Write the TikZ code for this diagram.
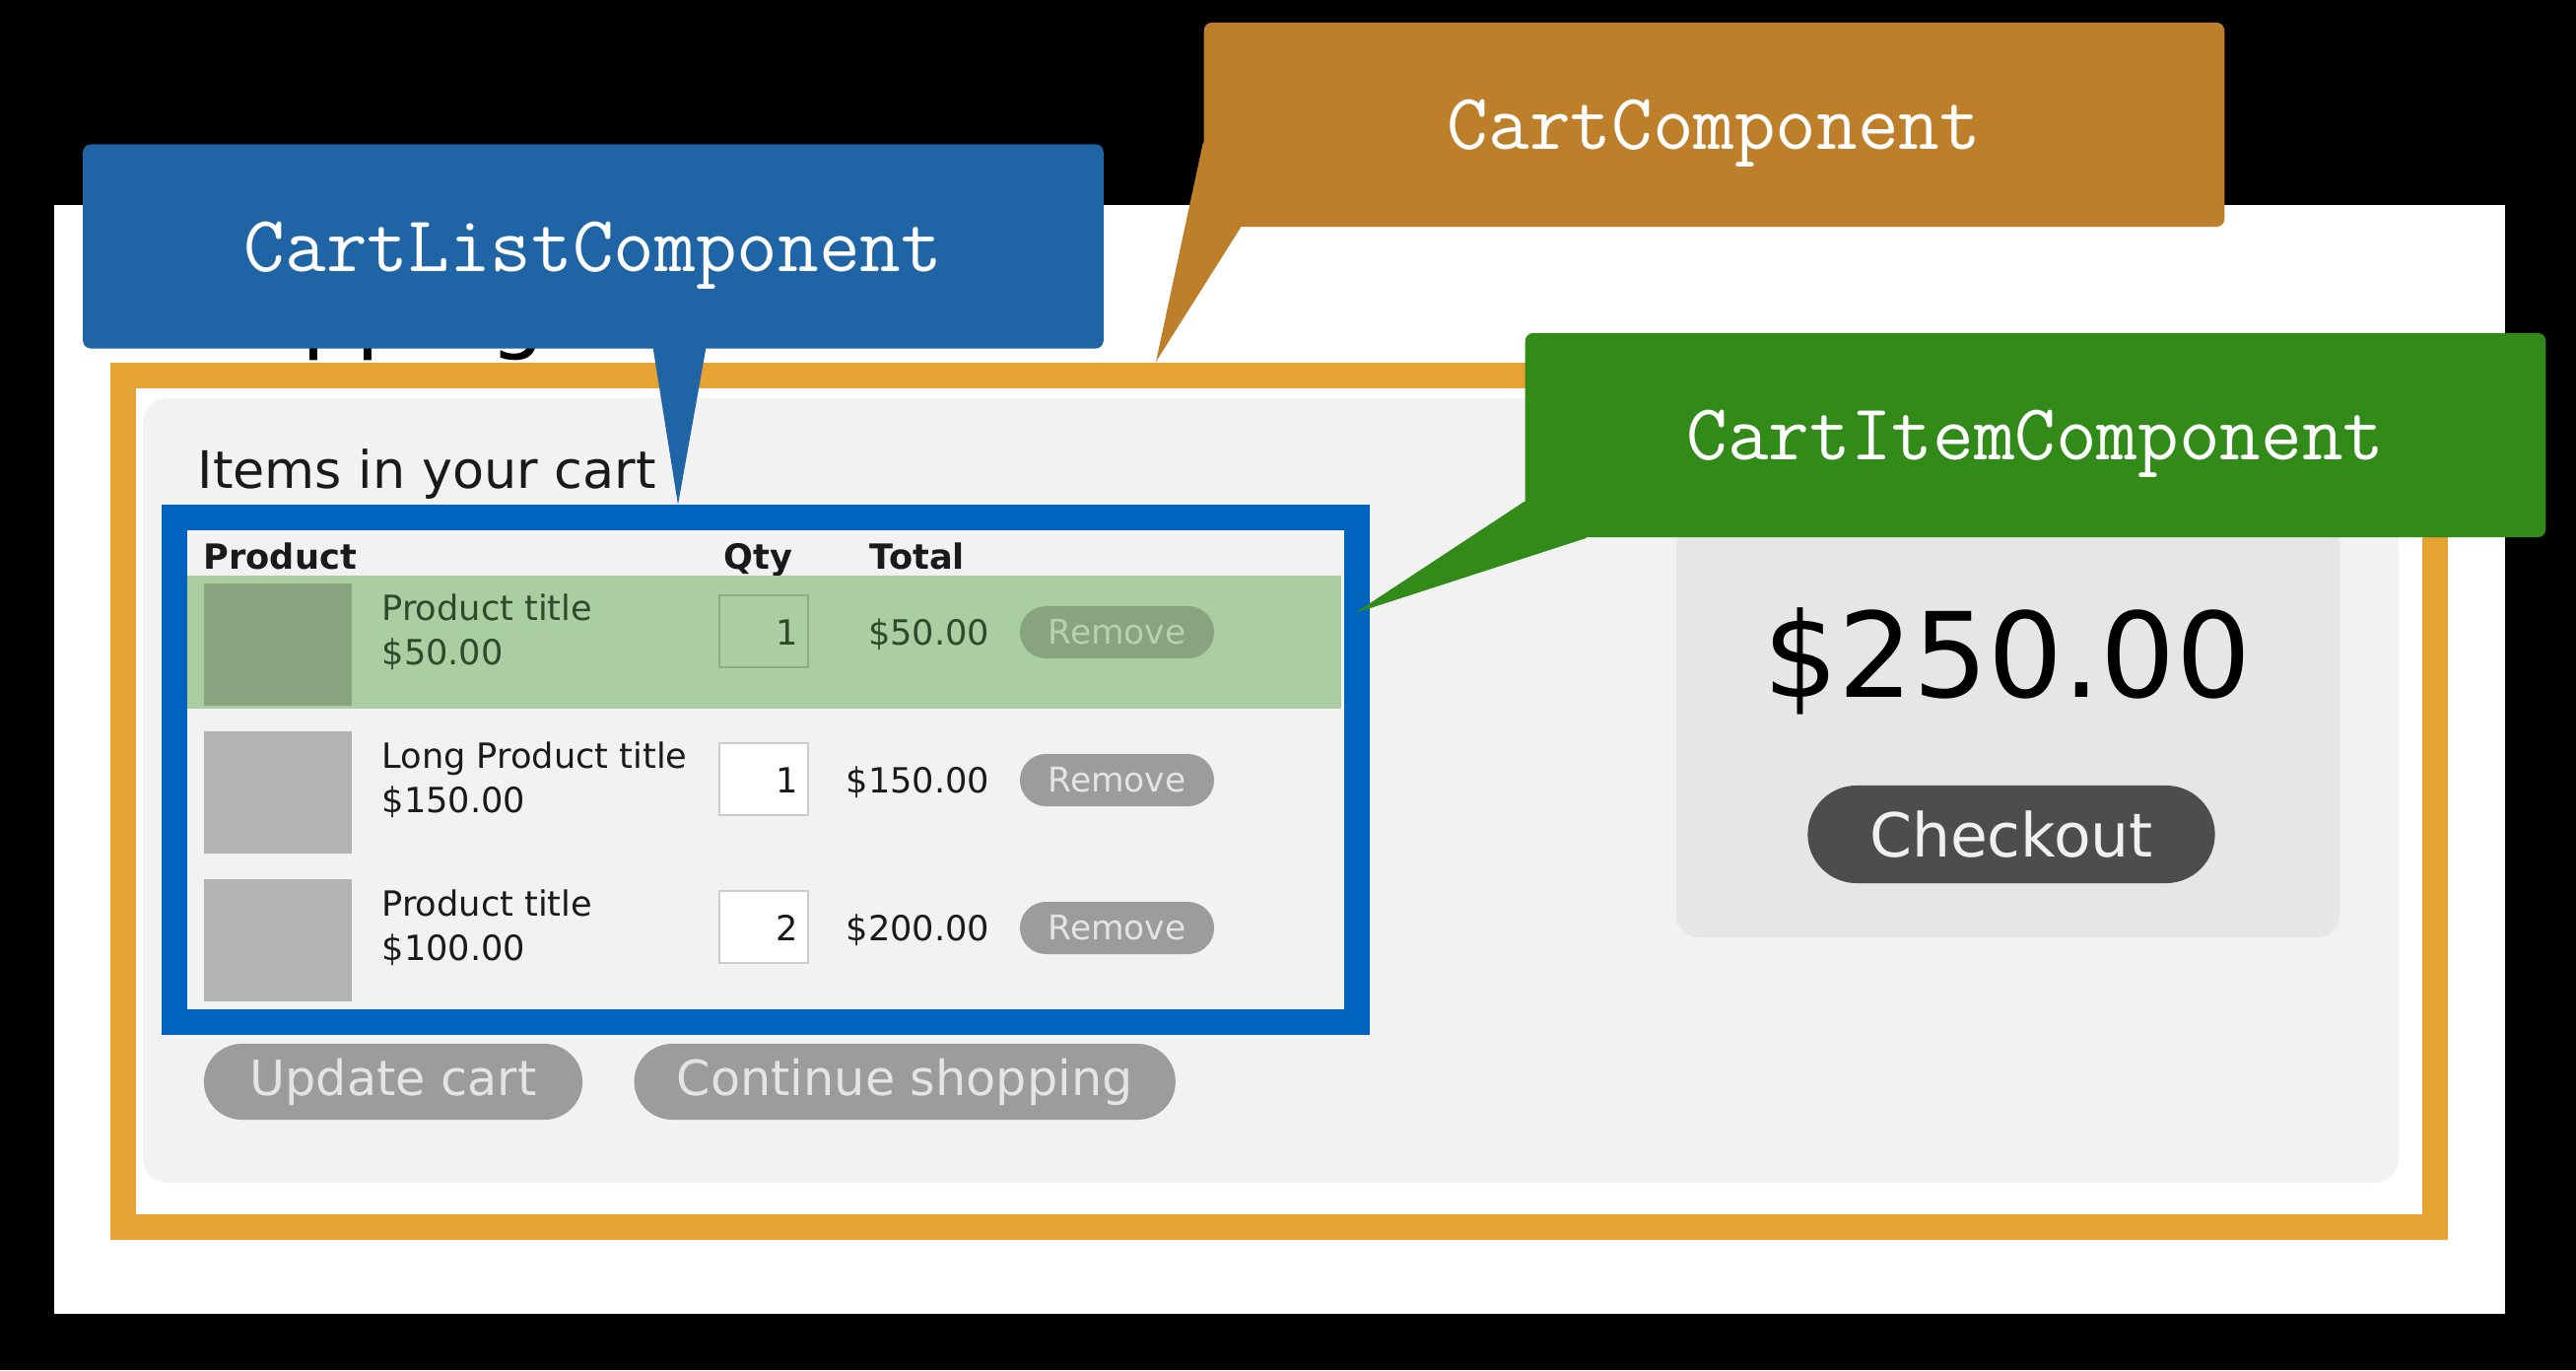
\documentclass[tikz,border=0pt]{standalone}
\usepackage{fontspec}
\newfontfamily\uifont{DejaVu Sans}
\usetikzlibrary{positioning}

\definecolor{pagebg}{HTML}{F2F2F2}
\definecolor{sumbg}{HTML}{E6E6E6}
\definecolor{cartorange}{HTML}{E6A233}
\definecolor{listblue}{HTML}{0064BF}
\definecolor{callorange}{HTML}{BE7F2A}
\definecolor{callblue}{HTML}{1F65A5}
\definecolor{callgreen}{HTML}{328A19}
\definecolor{rowgreen}{HTML}{ABCDA2}
\definecolor{thumbhl}{HTML}{87A47F}
\definecolor{thumbpl}{HTML}{B3B3B3}
\definecolor{inkhl}{HTML}{2F4A2A}
\definecolor{inkpl}{HTML}{1A1A1A}
\definecolor{qtyfillhl}{HTML}{ABCDA2}
\definecolor{qtyfillpl}{HTML}{FFFFFF}
\definecolor{qtylinehl}{HTML}{8CAD84}
\definecolor{qtylinepl}{HTML}{CCCCCC}
\definecolor{btnhl}{HTML}{87A47F}
\definecolor{btnpl}{HTML}{9C9C9C}
\definecolor{btntexthl}{HTML}{B5D2AC}
\definecolor{btntextpl}{HTML}{E4E4E4}
\definecolor{checkoutgray}{HTML}{4D4D4D}

\begin{document}
\begin{tikzpicture}[
  x=0.01cm, y=-0.01cm,
  callout/.style={rectangle, rounded corners=0.08cm, minimum width=10.35cm, minimum height=2.07cm, inner sep=0pt, text depth=0pt, text=white, font=\ttfamily\fontsize{23}{23}\selectfont},
  cell/.style={inner sep=0pt, font=\uifont\fontsize{10}{12}\selectfont},
  cellhead/.style={cell, font=\uifont\bfseries\fontsize{10}{12}\selectfont, text=inkpl},
  qtybox/.style={rectangle, line width=0.6pt, minimum width=0.9cm, minimum height=0.73cm, inner sep=0pt},
  rmbtn/.style={rectangle, rounded corners=0.265cm, minimum width=1.97cm, minimum height=0.53cm, inner sep=0pt, font=\uifont\fontsize{9.8}{10}\selectfont},
  bigbtn/.style={rectangle, rounded corners=0.385cm, minimum height=0.77cm, inner sep=0pt, fill=btnpl, text=btntextpl, font=\uifont\fontsize{14}{16}\selectfont},
]

% ── PAGE ──
\fill[black] (0,0) rectangle (2614,1390);
\fill[white] (55,208) rectangle (2542,1333);
\node[inner sep=0pt, anchor=base west, font=\uifont\fontsize{25}{30}\selectfont] (pagetitle) at (140,347) {Shopping cart};

% ── CART COMPONENT (orange frame) ──
\draw[cartorange, line width=0.26cm] (125,381) rectangle (2471,1245);
\fill[pagebg, rounded corners=0.25cm] (145,404) rectangle (2434,1200);
\node[cell, anchor=base west, font=\uifont\fontsize{14.9}{16}\selectfont, text=inkpl] (itemshead) at (200,495) {Items in your cart};

% ── CART LIST COMPONENT (blue frame) ──
\draw[listblue, line width=0.26cm] (177,525) rectangle (1377,1037);
\node[cellhead, anchor=base west] (hproduct) at (206,577) {Product};
\node[cellhead, anchor=base west] (hqty) at (734,577) {Qty};
\node[cellhead, anchor=base west] (htotal) at (882,577) {Total};

% highlighted row = CartItemComponent
\fill[rowgreen] (190,584) rectangle (1361,719);

\foreach \i/\name/\price/\qty/\total/\look in {0/Product title/\$50.00/1/\$50.00/hl, 1/Long Product title/\$150.00/1/\$150.00/pl, 2/Product title/\$100.00/2/\$200.00/pl}{
  \pgfmathsetmacro{\ry}{584+150*\i}
  \fill[thumb\look] (207,{\ry+8}) rectangle (357,{\ry+132});
  \node[cell, text=ink\look, anchor=base west] (name\i) at (387,{\ry+45}) {\name};
  \node[cell, text=ink\look, anchor=base west] (price\i) at (387,{\ry+90}) {\price};
  \node[qtybox, fill=qtyfill\look, draw=qtyline\look] (qtybox\i) at (775,{\ry+56.5}) {};
  \node[cell, text=ink\look, anchor=base east] (qty\i) at (811,{\ry+70}) {\qty};
  \node[cell, text=ink\look, anchor=base east] (total\i) at (1005,{\ry+70}) {\total};
  \node[rmbtn, fill=btn\look, text=btntext\look] (remove\i) at (1133.5,{\ry+57.5}) {Remove};
}

% ── BUTTONS ──
\node[bigbtn, minimum width=3.84cm] (update) at (399,1097.5) {Update cart};
\node[bigbtn, minimum width=5.49cm, right=0.51cm of update] (continue) {Continue shopping};

% ── SUMMARY ──
\fill[sumbg, rounded corners=0.22cm] (1701,530) rectangle (2374,951);
\node[inner sep=0pt, anchor=base, font=\uifont\fontsize{34}{40}\selectfont] (grandtotal) at (2037,707) {\$250.00};
\node[rectangle, rounded corners=0.495cm, minimum width=4.13cm, minimum height=0.99cm, inner sep=0pt, fill=checkoutgray, text=white!94!black, font=\uifont\fontsize{17.5}{20}\selectfont] (checkout) at (2041,846.5) {Checkout};

% ── CALLOUTS ──
\coordinate (listtip) at (688,512);
\coordinate (carttip) at (1173,367);
\coordinate (itemtip) at (1375,622);

\node[callout, fill=callblue] (listcall) at (602,250) {CartListComponent};
\fill[callblue] ([xshift=0.6cm, yshift=0.05cm]listcall.south) -- (listtip) -- ([xshift=1.15cm, yshift=0.05cm]listcall.south) -- cycle;

\node[callout, fill=callorange] (cartcall) at (1739.5,126.5) {CartComponent};
\fill[callorange] ([yshift=0.87cm]cartcall.south west) -- (carttip) -- ([xshift=0.38cm]cartcall.south west) -- cycle;

\node[callout, fill=callgreen] (itemcall) at (2065.5,441.5) {CartItemComponent};
\fill[callgreen] ([yshift=0.37cm]itemcall.south west) -- (itemtip) -- ([xshift=0.63cm]itemcall.south west) -- cycle;

\end{tikzpicture}
\end{document}
